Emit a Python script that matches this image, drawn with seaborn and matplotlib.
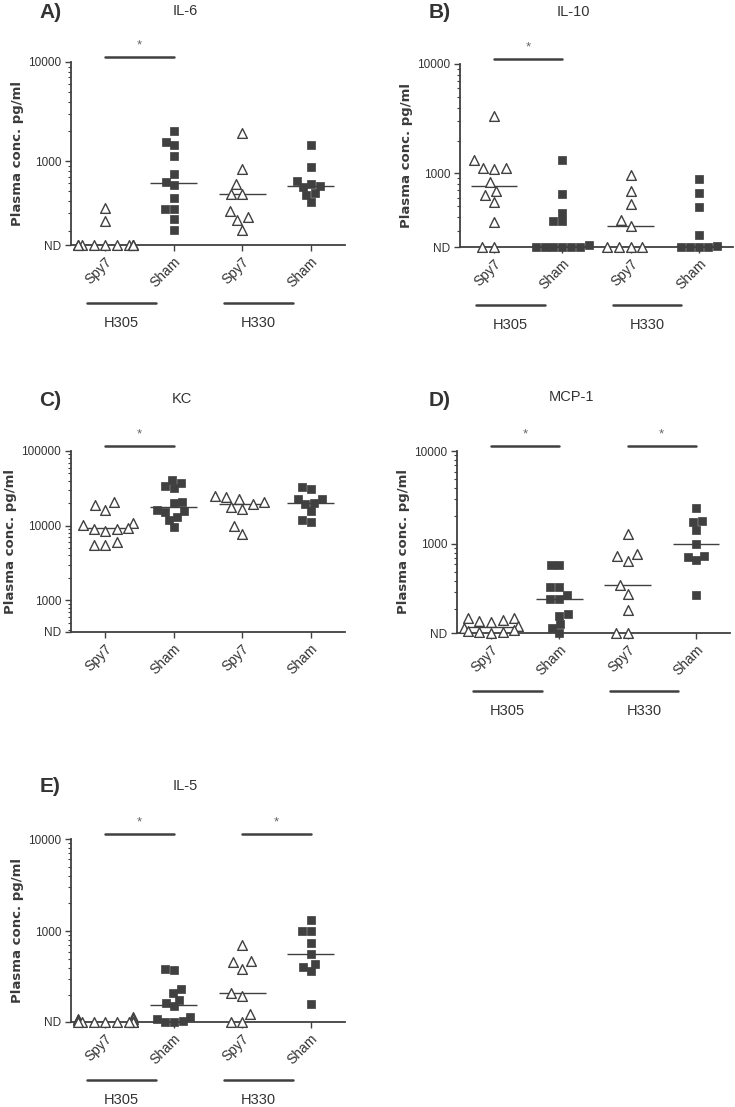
import warnings
import numpy as np
import pandas as pd
import matplotlib
matplotlib.use("Agg")
import matplotlib.pyplot as plt
import matplotlib.transforms as mtransforms
from matplotlib.ticker import FixedLocator, FixedFormatter, LogLocator, NullFormatter
import seaborn as sns

warnings.filterwarnings("ignore")

groups = ["Spy7 H305", "Sham H305", "Spy7 H330", "Sham H330"]
tick_names = ["Spy7", "Sham", "Spy7", "Sham"]
strains = ["H305", "H330"]

# plasma concentrations in pg/ml, 0 = not detected (ND)
il6_spy7_h305 = [337, 253, 0, 0, 0, 0, 0, 0, 0, 0, 0, 0]
il6_sham_h305 = [2040, 1580, 1460, 1140, 745, 625, 580, 430, 335, 335, 263, 204]
il6_spy7_h330 = [1910, 830, 587, 470, 470, 314, 273, 257, 204]
il6_sham_h330 = [1450, 885, 640, 596, 569, 548, 484, 458, 386]

il10_spy7_h305 = [3370, 1315, 1130, 1130, 1095, 840, 690, 635, 545, 360, 0, 0]
il10_sham_h305 = [1325, 647, 440, 366, 366, 224, 0, 0, 0, 0, 0, 0]
il10_spy7_h330 = [966, 694, 524, 374, 330, 0, 0, 0, 0]
il10_sham_h330 = [881, 670, 489, 273, 218, 0, 0, 0, 0]

kc_spy7_h305 = [20500, 19080, 16190, 10740, 10210, 9400, 9020, 9020, 8490, 5990, 5520, 5520]
kc_sham_h305 = [40740, 36800, 33890, 31550, 20930, 19880, 16190, 15870, 15070, 13200, 11910, 9500]
kc_spy7_h330 = [24900, 24400, 22950, 20500, 19280, 17950, 16530, 9900, 7740]
kc_sham_h330 = [33200, 30900, 22480, 22480, 20290, 19490, 15870, 11910, 11300]

mcp1_spy7_h305 = [159, 158, 150, 148, 145, 130, 122, 118, 115, 112, 111, 0]
mcp1_sham_h305 = [595, 585, 342, 342, 283, 254, 254, 173, 166, 135, 124, 0]
mcp1_spy7_h330 = [1280, 780, 731, 656, 356, 290, 192, 0, 0]
mcp1_sham_h330 = [2420, 1770, 1700, 1390, 1000, 731, 719, 662, 283]

il5_spy7_h305 = [116, 112, 110, 108, 0, 0, 0, 0, 0, 0, 0, 0]
il5_sham_h305 = [385, 375, 237, 212, 180, 165, 152, 116, 111, 105, 0, 0]
il5_spy7_h330 = [703, 474, 463, 392, 212, 195, 126, 0, 0]
il5_sham_h330 = [1318, 1008, 1000, 734, 557, 444, 408, 369, 163]

# where "ND" sits on each axis
nd_levels = [144, 213, 377, 109, 103]

sns.set_theme(style="ticks")
plt.rcParams["font.family"] = ["Liberation Sans", "DejaVu Sans"]

INK = "#404040"
TXT = "#333333"
W, H = 735, 1107

fig = plt.figure(figsize=(W / 100, H / 100), dpi=100)


def fx(x):
    return x / W


def fy(y):
    return 1 - y / H


panels = [
    dict(letter="A)", name="IL-6", nd=nd_levels[0], top=10000, sig=[(0, 1)], strain_bar=True,
         box=(71, 62, 345, 245), letter_xy=(51, 12), title_xy=(185, 11),
         values=[il6_spy7_h305, il6_sham_h305, il6_spy7_h330, il6_sham_h330]),
    dict(letter="B)", name="IL-10", nd=nd_levels[1], top=10000, sig=[(0, 1)], strain_bar=True,
         box=(460, 64, 733, 247), letter_xy=(440, 12), title_xy=(573, 12),
         values=[il10_spy7_h305, il10_sham_h305, il10_spy7_h330, il10_sham_h330]),
    dict(letter="C)", name="KC", nd=nd_levels[2], top=100000, sig=[(0, 1)], strain_bar=False,
         box=(71, 451, 345, 632), letter_xy=(50, 400), title_xy=(182, 399),
         values=[kc_spy7_h305, kc_sham_h305, kc_spy7_h330, kc_sham_h330]),
    dict(letter="D)", name="MCP-1", nd=nd_levels[3], top=10000, sig=[(0, 1), (2, 3)], strain_bar=True,
         box=(457, 451, 730, 633), letter_xy=(440, 400), title_xy=(571, 397),
         values=[mcp1_spy7_h305, mcp1_sham_h305, mcp1_spy7_h330, mcp1_sham_h330]),
    dict(letter="E)", name="IL-5", nd=nd_levels[4], top=10000, sig=[(0, 1), (2, 3)], strain_bar=True,
         box=(71, 839, 345, 1022), letter_xy=(50, 786), title_xy=(185, 786),
         values=[il5_spy7_h305, il5_sham_h305, il5_spy7_h330, il5_sham_h330]),
]


def draw_panel(p):
    l, t, r, b = p["box"]
    hpx = b - t
    ax = fig.add_axes([fx(l), fy(b), (r - l) / W, hpx / H])
    ax.set_yscale("log")
    nd = p["nd"]

    rows = []
    for g, vals in zip(groups, p["values"]):
        for v in vals:
            rows.append((g, v if v > 0 else nd))
    df = pd.DataFrame(rows, columns=["group", "conc"])
    spy = df[df["group"].str.startswith("Spy7")]
    sham = df[df["group"].str.startswith("Sham")]

    sns.swarmplot(data=spy, x="group", y="conc", order=groups, ax=ax, marker="^", size=7,
                  color="white", edgecolor=INK, linewidth=1.0, clip_on=False, zorder=3)
    sns.swarmplot(data=sham, x="group", y="conc", order=groups, ax=ax, marker="s", size=5.6,
                  color=INK, edgecolor=INK, linewidth=0.5, clip_on=False, zorder=3)

    med = df.groupby("group")["conc"].median()
    for i, g in enumerate(groups):
        ax.hlines(med[g], i - 0.34, i + 0.34, color=INK, lw=1.0, zorder=2)

    ax.set_xlim(-0.5, 3.5)
    ax.set_ylim(nd, p["top"])

    majors = [nd, 1000, 10000] + ([100000] if p["top"] == 100000 else [])
    ax.yaxis.set_major_locator(FixedLocator(majors))
    ax.yaxis.set_major_formatter(FixedFormatter(["ND"] + [str(m) for m in majors[1:]]))
    ax.yaxis.set_minor_locator(LogLocator(base=10, subs=np.arange(2, 10), numticks=50))
    ax.yaxis.set_minor_formatter(NullFormatter())

    ax.set_xticks(range(4))
    ax.set_xticklabels(tick_names, rotation=45, ha="right", rotation_mode="anchor",
                       fontsize=10, color=TXT)
    ax.tick_params(axis="both", which="major", direction="out", length=4, width=1,
                   color=INK, pad=3)
    ax.tick_params(axis="y", which="major", labelsize=8.5, labelcolor=TXT)
    ax.tick_params(axis="y", which="minor", length=2, width=0.8, color=INK)
    ax.set_xlabel("")
    ax.set_ylabel("Plasma conc. pg/ml", fontsize=9.5, fontweight="bold", color="#3a3a3a",
                  family=["DejaVu Sans"], labelpad=3)

    sns.despine(ax=ax)
    for side in ["left", "bottom"]:
        ax.spines[side].set_color(INK)
        ax.spines[side].set_linewidth(1.3)

    trans = mtransforms.blended_transform_factory(ax.transData, ax.transAxes)
    for a, c in p["sig"]:
        ax.plot([a, c], [1 + 5 / hpx] * 2, color=INK, lw=1.8, transform=trans, clip_on=False)
        ax.text((a + c) / 2, 1 + 17 / hpx, "*", ha="center", va="center", fontsize=9.5,
                color="#666666", transform=trans)

    if p["strain_bar"]:
        for k, s in enumerate(strains):
            x0 = 2 * k - 0.26
            ax.plot([x0, x0 + 1], [-58 / hpx] * 2, color=INK, lw=1.8, transform=trans,
                    clip_on=False)
            ax.text(x0 + 0.5, -78 / hpx, s, ha="center", va="center", fontsize=10.5,
                    color=TXT, transform=trans)

    lx, ly = p["letter_xy"]
    fig.text(fx(lx), fy(ly), p["letter"], ha="center", va="center", fontsize=15,
             fontweight="bold", color=TXT)
    tx, ty = p["title_xy"]
    fig.text(fx(tx), fy(ty), p["name"], ha="center", va="center", fontsize=10.5, color=TXT)


for p in panels:
    draw_panel(p)

fig.savefig("out.png", dpi=100)
